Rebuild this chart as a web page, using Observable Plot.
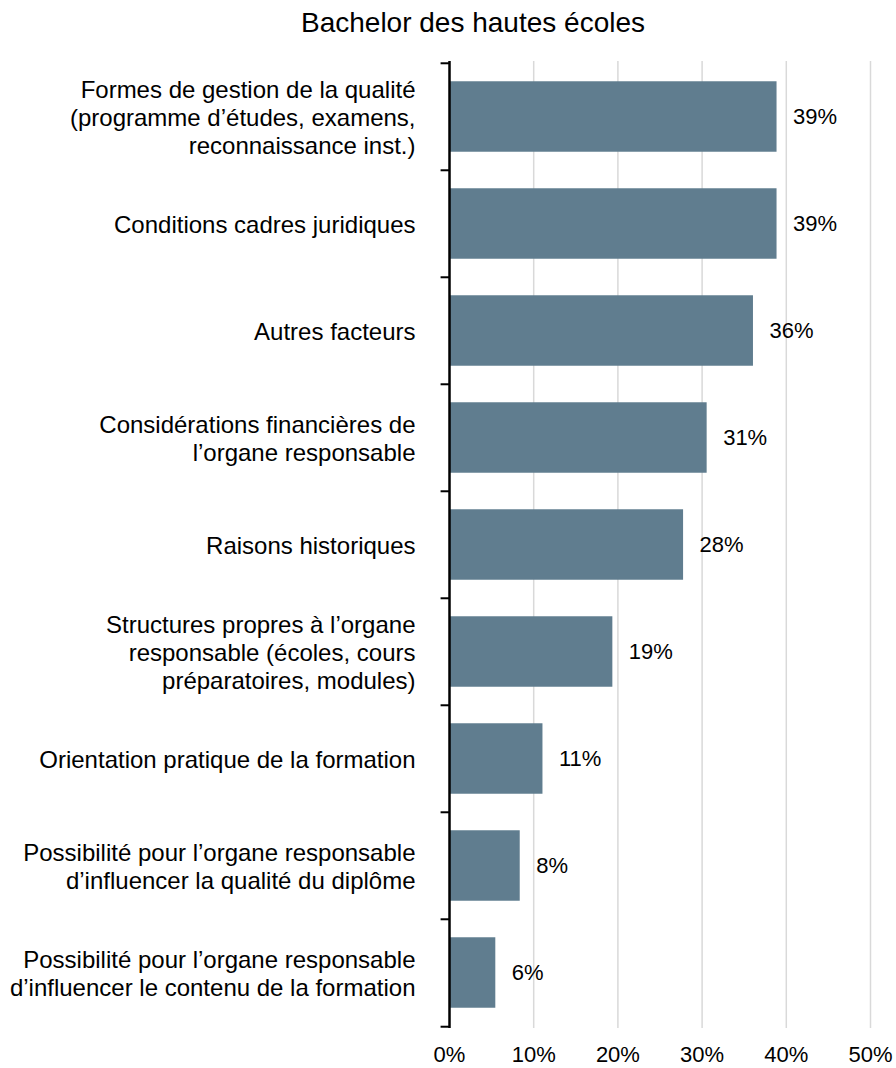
<!DOCTYPE html>
<html>
<head>
<meta charset="utf-8">
<script src="https://cdn.jsdelivr.net/npm/d3@7"></script>
<script src="https://cdn.jsdelivr.net/npm/@observablehq/plot@0.6"></script>
<style>
  html, body { margin: 0; padding: 0; background: #fff; }
  #title { height: 50px; line-height: 46px; box-sizing: border-box; padding-left: 50px; text-align: center;
           font-family: "Liberation Sans", Arial, sans-serif; font-size: 28px; color: #000; width: 896px; }
  svg { display: block; }
</style>
</head>
<body>
<div id="title">Bachelor des hautes écoles</div>
<div id="chart"></div>
<script>
const categories = [
  "Formes de gestion de la qualité\n(programme d’études, examens,\nreconnaissance inst.)",
  "Conditions cadres juridiques",
  "Autres facteurs",
  "Considérations financières de\nl’organe responsable",
  "Raisons historiques",
  "Structures propres à l’organe\nresponsable (écoles, cours\npréparatoires, modules)",
  "Orientation pratique de la formation",
  "Possibilité pour l’organe responsable\nd’influencer la qualité du diplôme",
  "Possibilité pour l’organe responsable\nd’influencer le contenu de la formation"
];
const values = [38.9, 38.9, 36.1, 30.6, 27.8, 19.4, 11.1, 8.4, 5.5];
const xTicks = [0, 10, 20, 30, 40, 50];

const data = categories.map((c, i) => ({category: c, value: values[i]}));

const W = 896, H = 1018, mT = 11, mB = 40, mL = 449, mR = 26;
const step = (H - mT - mB) / categories.length;
const inset = step * 0.17;
const font = "Liberation Sans, Arial, sans-serif";
const fs = 22;
const fsCat = 24;

const chart = Plot.plot({
  width: W, height: H,
  marginTop: mT, marginBottom: mB, marginLeft: mL, marginRight: mR,
  style: {fontFamily: font, fontSize: fs + "px", color: "#000", background: "#fff"},
  x: {domain: [0, 50]},
  y: {domain: categories, padding: 0},
  marks: [
    Plot.ruleX(xTicks.filter(d => d > 0), {stroke: "#d9d9d9", strokeWidth: 1.5}),
    Plot.barX(data, {x: "value", y: "category", fill: "#607d8f", insetTop: inset, insetBottom: inset}),
    Plot.text(data, {x: "value", y: "category", text: d => Math.round(d.value) + "%", dx: 16, textAnchor: "start", fontSize: fs, fill: "#000"}),
    Plot.ruleX([0], {stroke: "#000", strokeWidth: 2.5}),
    Plot.ruleY(categories, {y: d => d, x1: -1, x2: 0, dy: -step / 2, stroke: "#000", strokeWidth: 2}),
    Plot.ruleY(categories.slice(-1), {y: d => d, x1: -1, x2: 0, dy: step / 2, stroke: "#000", strokeWidth: 2}),
    Plot.axisY({tickSize: 0, tickPadding: 34, fontSize: fsCat, lineHeight: 1.17, label: null}),
    Plot.axisX({ticks: xTicks, tickSize: 0, tickPadding: 18, fontSize: fs, tickFormat: d => d + "%", label: null})
  ]
});
document.getElementById("chart").appendChild(chart);
</script>
</body>
</html>
